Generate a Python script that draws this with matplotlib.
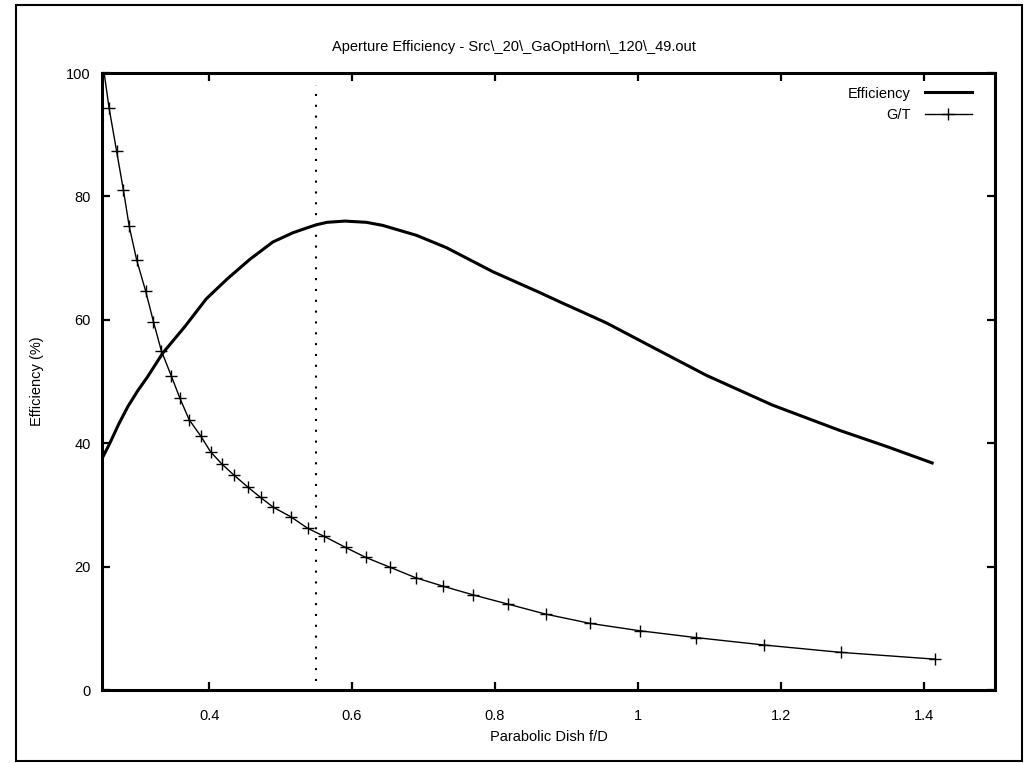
import numpy as np
import matplotlib
matplotlib.use("Agg")
import matplotlib.pyplot as plt
from matplotlib.patches import Rectangle
from matplotlib.lines import Line2D

plt.rcParams['font.family'] = ['Liberation Sans', 'DejaVu Sans']

# efficiency curve
eff_fd = [0.25, 0.261, 0.273, 0.286, 0.300, 0.314, 0.335, 0.366, 0.396, 0.426,
          0.457, 0.489, 0.517, 0.537, 0.55, 0.565, 0.59, 0.62, 0.643, 0.69,
          0.732, 0.797, 0.863, 0.891, 0.956, 1.02, 1.096, 1.188, 1.282, 1.35, 1.412]
eff_val = [37.5, 40.0, 43.0, 45.9, 48.5, 50.8, 54.6, 58.9, 63.4, 66.7,
           69.8, 72.6, 74.1, 74.9, 75.4, 75.8, 76.0, 75.8, 75.3, 73.7,
           71.7, 67.8, 64.4, 62.9, 59.5, 55.6, 51.0, 46.2, 42.1, 39.4, 36.8]

# G/T points (first one lies above the plot and is clipped)
gt_fd = [0.25, 0.2598, 0.2705, 0.280, 0.288, 0.2985, 0.311, 0.322, 0.333, 0.347,
         0.359, 0.372, 0.388, 0.402, 0.418, 0.435, 0.454, 0.472, 0.490, 0.514,
         0.538, 0.561, 0.591, 0.619, 0.653, 0.689, 0.728, 0.770, 0.819, 0.871,
         0.933, 1.003, 1.081, 1.176, 1.284, 1.416]
gt_val = [102.5, 94.4, 87.3, 81.0, 75.2, 69.7, 64.7, 59.7, 55.0, 50.9,
          47.3, 43.8, 41.2, 38.6, 36.6, 34.8, 32.9, 31.2, 29.6, 28.1,
          26.2, 24.9, 23.1, 21.5, 19.9, 18.2, 16.8, 15.4, 13.9, 12.3,
          10.8, 9.6, 8.5, 7.3, 6.1, 5.0]

opt_fd = 0.55
x_ticks = [0.4, 0.6, 0.8, 1.0, 1.2, 1.4]
x_tick_labels = ['0.4', '0.6', '0.8', '1', '1.2', '1.4']
y_ticks = [0, 20, 40, 60, 80, 100]

fig = plt.figure(figsize=(10.27, 7.63), dpi=100)
ax = fig.add_axes([102/1027, 73/763, 893/1027, 617/763])

ax.plot(eff_fd, eff_val, color='black', lw=2.2, label='Efficiency')
ax.plot(gt_fd, gt_val, color='black', lw=1.0, marker='+', ms=9, mew=1.0, label='G/T')
ax.plot([opt_fd, opt_fd], [1.5, 98], color='black', lw=1.5, dashes=(1, 4.2))

ax.set_xlim(0.25, 1.5)
ax.set_ylim(0, 100)
ax.set_xticks(x_ticks)
ax.set_xticklabels(x_tick_labels)
ax.set_yticks(y_ticks)
ax.tick_params(direction='in', length=6, width=1.6, top=True, right=True,
               labelsize=10.5)
ax.tick_params(axis='x', pad=14)
ax.tick_params(axis='y', pad=8)
for s in ax.spines.values():
    s.set_linewidth(2.2)

# gnuplot centres the title on the whole canvas
fig.text(0.5, 1 - 47/763, r'Aperture Efficiency - Src\_20\_GaOptHorn\_120\_49.out',
         ha='center', va='center', fontsize=10.5)
ax.set_xlabel('Parabolic Dish f/D', fontsize=10.5, labelpad=5)
ax.set_ylabel('Efficiency (%)', fontsize=10.5, labelpad=16)

handles = [Line2D([], [], color='black', lw=2.2),
           Line2D([], [], color='black', lw=1.0, marker='+', ms=9, mew=1.0)]
ax.legend(handles, ['Efficiency', 'G/T'], loc='upper right',
          bbox_to_anchor=(0.974, 0.978), frameon=False, borderpad=0,
          borderaxespad=0, markerfirst=False, handlelength=3.2,
          handletextpad=1.0, labelspacing=0.5, fontsize=10.5)

fig.patches.append(Rectangle((16/1027, 2/763), 1006/1027, 756/763,
                             transform=fig.transFigure, fill=False,
                             edgecolor='black', lw=1.5))

fig.savefig('out.png', dpi=100)
